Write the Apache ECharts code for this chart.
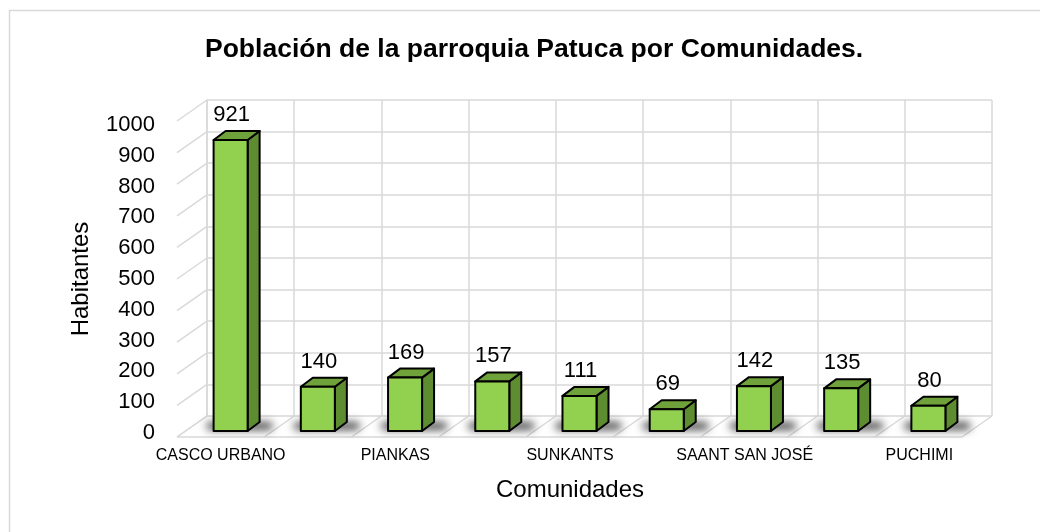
<!DOCTYPE html>
<html>
<head>
<meta charset="utf-8">
<script src="https://cdn.jsdelivr.net/npm/echarts@6/dist/echarts.min.js"></script>
<style>
  html, body { margin: 0; padding: 0; background: #fff; }
  #chart { width: 1040px; height: 532px; }
</style>
</head>
<body>
<div id="chart"></div>
<script>
// Communities of the parish (only alternate names are printed on the axis)
const categories = ['CASCO URBANO', '', 'PIANKAS', '', 'SUNKANTS', '', 'SAANT SAN JOSÉ', '', 'PUCHIMI'];
// Inhabitants per community
const population = [921, 140, 169, 157, 111, 69, 142, 135, 80];
// Value axis ticks
const yTicks = [0, 100, 200, 300, 400, 500, 600, 700, 800, 900, 1000];

const FONT = '"Liberation Sans", Arial, sans-serif';
const GRID_COLOR = '#d9d9d9';

// Depth of the 3D box: floor/side wall offset from back wall to front edge
const WALL_DX = -30, WALL_DY = 21;
// Plane the bars stand on (between back wall and front edge)
const BAR_DX = -20, BAR_DY = 15;
// Depth of each bar
const BOX_DX = 12, BOX_DY = -9;

const chart = echarts.init(document.getElementById('chart'), null, { renderer: 'canvas' });

function wallLines(params, api) {
  const cs = params.coordSys;
  const v = api.value(0);
  const y = api.coord([0, v])[1];
  return {
    type: 'line',
    shape: { x1: cs.x, y1: y, x2: cs.x + WALL_DX, y2: y + WALL_DY },
    style: { stroke: GRID_COLOR, lineWidth: 1.5 },
    silent: true
  };
}

function floorLines(params, api) {
  const cs = params.coordSys;
  const idx = api.value(0);
  const band = api.size([1, 0])[0];
  const c = api.coord([idx, 0]);
  const yb = c[1];
  const children = [];
  const xl = c[0] - band / 2;
  children.push({
    type: 'line',
    shape: { x1: xl, y1: yb, x2: xl + WALL_DX, y2: yb + WALL_DY },
    style: { stroke: GRID_COLOR, lineWidth: 1.5 }
  });
  if (idx === categories.length - 1) {
    const xr = c[0] + band / 2;
    children.push({
      type: 'line',
      shape: { x1: xr, y1: yb, x2: xr + WALL_DX, y2: yb + WALL_DY },
      style: { stroke: GRID_COLOR, lineWidth: 1.5 }
    });
    children.push({
      type: 'line',
      shape: { x1: cs.x + WALL_DX, y1: yb + WALL_DY, x2: cs.x + cs.width + WALL_DX, y2: yb + WALL_DY },
      style: { stroke: GRID_COLOR, lineWidth: 1.5 }
    });
  }
  return { type: 'group', children: children, silent: true };
}

function bar3d(params, api) {
  const idx = api.value(0);
  const val = api.value(1);
  const top = api.coord([idx, val]);
  const base = api.coord([idx, 0]);
  const band = api.size([1, 0])[0];
  const w = band * 0.39;
  const x0 = top[0] + BAR_DX - w / 2;
  const x1 = x0 + w;
  const yT = top[1] + BAR_DY;
  const yB = base[1] + BAR_DY;
  const stroke = { stroke: '#000', lineWidth: 2, lineJoin: 'round' };
  const OFF = 3000;
  return {
    type: 'group',
    children: [
      // soft floor shadow (only its blurred shadow is visible)
      {
        type: 'rect',
        shape: { x: x0 - 7 - OFF, y: yB - 9, width: w + BOX_DX + 20, height: 8, r: 4 },
        style: {
          fill: '#000',
          shadowColor: 'rgba(0,0,0,0.7)',
          shadowBlur: 8,
          shadowOffsetX: OFF
        },
        silent: true
      },
      {
        type: 'polygon',
        shape: { points: [[x1, yT], [x1 + BOX_DX, yT + BOX_DY], [x1 + BOX_DX, yB + BOX_DY], [x1, yB]] },
        style: Object.assign({ fill: '#5e8c31' }, stroke)
      },
      {
        type: 'polygon',
        shape: { points: [[x0, yT], [x0 + BOX_DX, yT + BOX_DY], [x1 + BOX_DX, yT + BOX_DY], [x1, yT]] },
        style: Object.assign({ fill: '#6fa23a' }, stroke)
      },
      {
        type: 'rect',
        shape: { x: x0, y: yT, width: w, height: yB - yT },
        style: Object.assign({ fill: '#92d050' }, stroke)
      },
      {
        type: 'text',
        x: (x0 + x1) / 2 + 1,
        y: yT - 25,
        style: {
          text: String(val),
          fill: '#000',
          font: '22px ' + FONT,
          align: 'center',
          verticalAlign: 'middle'
        }
      }
    ]
  };
}

const option = {
  animation: false,
  backgroundColor: '#fff',
  textStyle: { fontFamily: FONT },
  title: {
    text: 'Población de la parroquia Patuca por Comunidades.',
    left: 200,
    top: 31,
    textStyle: { fontFamily: FONT, fontWeight: 'bold', fontSize: 26.5, color: '#000' }
  },
  graphic: [
    {
      type: 'rect',
      left: 7, top: 8, z: -10,
      shape: { width: 1100, height: 600 },
      style: { fill: 'none', stroke: GRID_COLOR, lineWidth: 1.5 },
      silent: true
    }
  ],
  grid: [
    // back wall
    { left: 207, top: 100, width: 785, height: 316 },
    // front edge, carries the axis labels
    { left: 177, top: 125, width: 786, height: 308 }
  ],
  xAxis: [
    {
      gridIndex: 0, type: 'category', data: categories, boundaryGap: true,
      axisLine: { show: false }, axisTick: { show: false }, axisLabel: { show: false },
      splitLine: { show: true, interval: 0, lineStyle: { color: GRID_COLOR, width: 1.5 } }
    },
    {
      gridIndex: 1, type: 'category', data: categories, boundaryGap: true,
      axisLine: { show: false }, axisTick: { show: false },
      axisLabel: { interval: 0, margin: 15, fontSize: 16, color: '#000', fontFamily: FONT },
      splitLine: { show: false },
      name: 'Comunidades', nameLocation: 'middle', nameGap: 45,
      nameTextStyle: { fontSize: 24, color: '#000', fontFamily: FONT }
    }
  ],
  yAxis: [
    {
      gridIndex: 0, type: 'value', min: 0, max: 1000, interval: 100,
      axisLine: { show: true, lineStyle: { color: GRID_COLOR, width: 1.5 } },
      axisTick: { show: false }, axisLabel: { show: false },
      splitLine: { show: true, lineStyle: { color: GRID_COLOR, width: 1.5 } }
    },
    {
      gridIndex: 1, type: 'value', min: 0, max: 1000, interval: 100,
      axisLine: { show: false }, axisTick: { show: false },
      axisLabel: { margin: 22, fontSize: 22, color: '#000', fontFamily: FONT, formatter: v => String(v) },
      splitLine: { show: false },
      name: 'Habitantes', nameLocation: 'middle', nameGap: 84, nameRotate: 90,
      nameTextStyle: { fontSize: 24, color: '#000', fontFamily: FONT }
    }
  ],
  series: [
    {
      type: 'custom', name: 'wall', xAxisIndex: 0, yAxisIndex: 0, z: 1,
      data: yTicks.map(t => [t]), encode: { y: 0 },
      renderItem: wallLines, silent: true
    },
    {
      type: 'custom', name: 'floor', xAxisIndex: 0, yAxisIndex: 0, z: 1,
      data: categories.map((c, i) => [i]), encode: { x: 0 },
      renderItem: floorLines, silent: true
    },
    {
      type: 'custom', name: 'Habitantes', xAxisIndex: 0, yAxisIndex: 0, z: 5,
      data: population.map((v, i) => [i, v]), encode: { x: 0, y: 1 },
      renderItem: bar3d
    }
  ]
};

chart.setOption(option);
</script>
</body>
</html>
